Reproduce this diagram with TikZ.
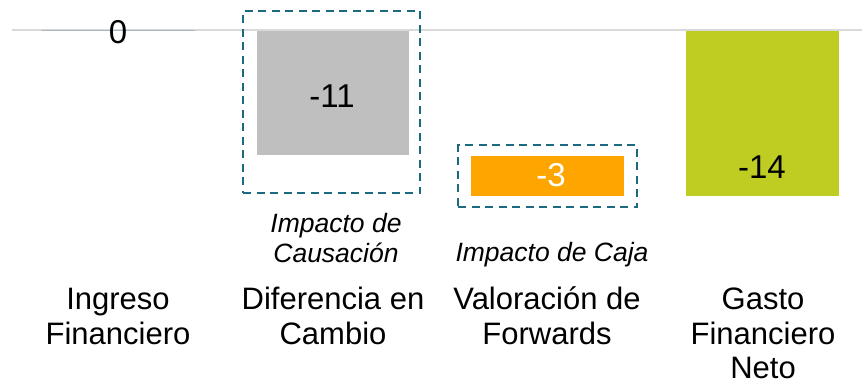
\documentclass[tikz,border=0pt]{standalone}
\usepackage{fontspec}
\setmainfont{Liberation Sans}
\definecolor{axisgray}{HTML}{D9D9D9}
\definecolor{zerogray}{HTML}{A9B6C0}
\definecolor{bargray}{HTML}{BFBFBF}
\definecolor{barorange}{HTML}{FFA500}
\definecolor{bargreen}{HTML}{BFCD23}
\definecolor{dashteal}{HTML}{1B6A80}
\tikzset{
  barbox/.style={draw=none, inner sep=0pt, outer sep=0pt, anchor=north west},
  dashbox/.style={draw=dashteal, line width=2pt, dash pattern=on 8pt off 5.5pt, inner sep=0pt, anchor=north west, fill=none},
  valtext/.style={anchor=base, inner sep=0pt, font=\fontsize{33}{38}\selectfont},
  cattext/.style={anchor=base, inner sep=0pt, align=center, font=\fontsize{31}{35}\selectfont},
  noteline/.style={anchor=base, inner sep=0pt, align=center, font=\fontsize{26.5}{30}\selectfont\itshape},
}
\begin{document}
\begin{tikzpicture}[x=1pt,y=-1pt]
\useasboundingbox (0,0) rectangle (862,384);
% axis
\coordinate (axL) at (12,30);
\coordinate (axR) at (862,30);
\draw[axisgray, line width=1.8pt] (axL) -- (axR);
\coordinate (z1) at (42,30);
\coordinate (z2) at (195,30);
\draw[zerogray, line width=0.8pt] (z1) -- (z2);
% bars
\node[barbox, fill=bargray, minimum width=152pt, minimum height=124pt] (b2) at (257,31) {};
\node[barbox, fill=barorange, minimum width=153pt, minimum height=40pt] (b3) at (471,156) {};
\node[barbox, fill=bargreen, minimum width=153pt, minimum height=165pt] (b4) at (686,31) {};
% dashed boxes
\node[dashbox, minimum width=177pt, minimum height=182pt] (d2) at (242,10) {};
\node[dashbox, minimum width=179pt, minimum height=62pt] (d3) at (457,144) {};
% values
\node[valtext] (v1) at (118,43) {0};
\node[valtext] (v2) at (332,107) {-11};
\node[valtext, text=white] (v3) at (551,186) {-3};
\node[valtext] (v4) at (762,178) {-14};
% notes
\node[noteline] (n2a) at (336,232) {Impacto de};
\node[noteline] (n2b) at (336,262) {Causación};
\node[noteline] (n3) at (552,261) {Impacto de Caja};
% categories
\node[cattext] (c1a) at (118,309) {Ingreso};
\node[cattext] (c1b) at (118,344) {Financiero};
\node[cattext] (c2a) at (333,309) {Diferencia en};
\node[cattext] (c2b) at (333,344) {Cambio};
\node[cattext] (c3a) at (547,309) {Valoración de};
\node[cattext] (c3b) at (547,344) {Forwards};
\node[cattext] (c4a) at (763,309) {Gasto};
\node[cattext] (c4b) at (763,344) {Financiero};
\node[cattext] (c4c) at (763,378.5) {Neto};
\end{tikzpicture}
\end{document}
